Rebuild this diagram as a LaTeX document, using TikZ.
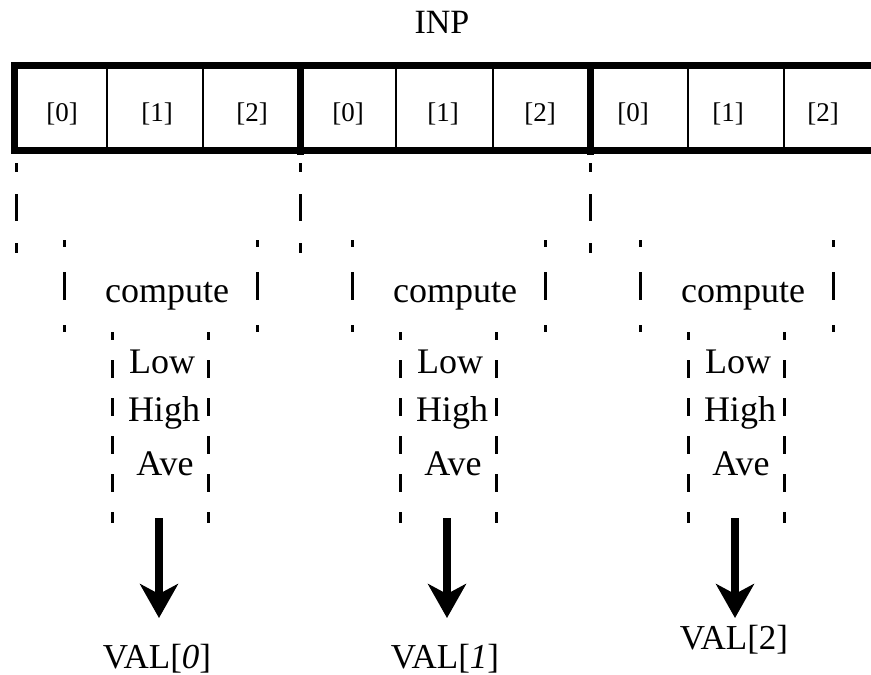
\documentclass[tikz,border=0pt]{standalone}
\usepackage{fontspec}
\setmainfont{Liberation Serif}
\usetikzlibrary{arrows.meta}
\begin{document}
\begin{tikzpicture}[x=1pt,y=-1pt,
  thickline/.style={line width=7pt},
  thinline/.style={line width=2pt},
  dashA/.style={line width=3pt, dash pattern=on 27pt off 22pt, dash phase=18pt},
  dashB/.style={line width=3pt, dash pattern=on 28pt off 25pt, dash phase=21pt},
  dashC/.style={line width=3pt, dash pattern=on 18pt off 20pt, dash phase=10pt},
  bigarrow/.style={line width=8pt, -{Stealth[length=34pt, width=38pt, inset=10pt]}},
  celltext/.style={anchor=base, inner sep=0pt, font=\fontsize{27}{27}\selectfont},
  bigtext/.style={anchor=base, inner sep=0pt, font=\fontsize{36}{36}\selectfont},
  valtext/.style={anchor=base, inner sep=0pt, font=\fontsize{35}{35}\selectfont}
]
\useasboundingbox (0,0) rectangle (871,675);
\clip (0,0) rectangle (871,675);

% title
\node[bigtext, font=\fontsize{34}{34}\selectfont] (inp) at (442,33) {INP};

% array
\draw[thickline] (14,65) rectangle (900,150);
\foreach \x in {300,590} \draw[thickline] (\x,65) -- (\x,155);
\foreach \x in {107,203,396,493,688,784} \draw[thinline] (\x,65) -- (\x,150);

% cell labels
\node[celltext] (c00) at (62,121) {[0]};
\node[celltext] (c01) at (157,121) {[1]};
\node[celltext] (c02) at (252,121) {[2]};
\node[celltext] (c10) at (348,121) {[0]};
\node[celltext] (c11) at (443,121) {[1]};
\node[celltext] (c12) at (540,121) {[2]};
\node[celltext] (c20) at (633,121) {[0]};
\node[celltext] (c21) at (728,121) {[1]};
\node[celltext] (c22) at (823,121) {[2]};

% dashed lines below array
\foreach \x in {16,300,590} \draw[dashA] (\x,163) -- (\x,253);

% per group
\foreach \g/\o in {0/0,1/288,2/576}{
  \draw[dashB] (64+\o,240) -- (64+\o,332);
  \draw[dashB] (257+\o,240) -- (257+\o,332);
  \draw[dashC] (112+\o,332) -- (112+\o,523);
  \draw[dashC] (208+\o,332) -- (208+\o,523);
  \node[bigtext] (comp\g) at (167+\o,302) {compute};
  \node[bigtext] (low\g) at (162+\o,373) {Low};
  \node[bigtext] (high\g) at (164+\o,421) {High};
  \node[bigtext] (ave\g) at (165+\o,475) {Ave};
  \coordinate (t\g) at (159+\o,518);
  \coordinate (h\g) at (159+\o,618);
  \draw[bigarrow] (t\g) -- (h\g);
}

\node[valtext] (val0) at (157,668) {VAL[\textit{0}]};
\node[valtext] (val1) at (445,668) {VAL[\textit{1}]};
\node[valtext] (val2) at (734,649) {VAL[2]};
\end{tikzpicture}
\end{document}
